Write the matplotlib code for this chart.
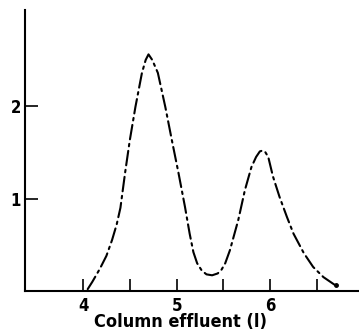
import matplotlib
matplotlib.use("Agg")
import matplotlib.pyplot as plt
from matplotlib import font_manager as fm

# Column effluent (l) vs absorbance
effluent = [4.05, 4.10, 4.18, 4.25, 4.31, 4.36, 4.40, 4.45, 4.50, 4.56,
            4.63, 4.67, 4.70, 4.74, 4.80, 4.88, 4.95, 5.02, 5.09, 5.14, 5.18,
            5.22, 5.27, 5.32, 5.38, 5.44, 5.48, 5.52, 5.57, 5.66, 5.73, 5.80,
            5.85, 5.89, 5.92, 5.95, 5.98, 6.03, 6.10, 6.18, 6.25, 6.36, 6.46,
            6.57, 6.70]
absorbance = [0.02, 0.10, 0.24, 0.38, 0.55, 0.72, 0.90, 1.28, 1.63, 1.99,
              2.36, 2.50, 2.56, 2.50, 2.36, 1.99, 1.63, 1.28, 0.91, 0.62, 0.42,
              0.30, 0.22, 0.18, 0.17, 0.19, 0.23, 0.30, 0.44, 0.77, 1.09, 1.34,
              1.45, 1.51, 1.52, 1.50, 1.45, 1.24, 1.02, 0.80, 0.62, 0.41, 0.26,
              0.15, 0.06]

x_major = [4, 5, 6]
x_minor = [4.5, 5.5, 6.5]
y_major = [1, 2]
xlabel = "Column effluent (l)"

names = sorted({f.name for f in fm.fontManager.ttflist})
print(names)
print([ (f.name, f.stretch, f.weight) for f in fm.fontManager.ttflist if 'DejaVu' in f.name or 'Narrow' in f.name or 'Condensed' in f.name])

plt.rcParams['font.family'] = ['DejaVu Sans']
font = dict(family='DejaVu Sans', stretch='condensed', weight='bold')

fig = plt.figure(figsize=(3.59, 3.32), dpi=100)
ax = fig.add_axes([25/359, 41/332, 1 - 25/359, (291-10)/332])

ax.plot(effluent, absorbance, color='black', lw=1.5,
        dashes=(7, 2.2, 1.2, 2.2), solid_capstyle='round', dash_capstyle='round')
ax.plot([effluent[-1]], [absorbance[-1]], 'o', color='black', ms=2.5)

ax.set_xlim(3.38, 6.95)
ax.set_ylim(0, 3.04)

ax.set_xticks(x_major)
ax.set_xticks(x_minor, minor=True)
ax.set_yticks(y_major)
ax.set_xticklabels([str(v) for v in x_major], fontsize=12, **font)
ax.set_yticklabels([str(v) for v in y_major], fontsize=12, **font)

ax.tick_params(axis='x', which='both', direction='in', length=9, width=1.2, pad=4)
ax.tick_params(axis='y', which='both', direction='in', length=9, width=1.2, pad=3)

for s in ['top', 'right']:
    ax.spines[s].set_visible(False)
for s in ['left', 'bottom']:
    ax.spines[s].set_linewidth(1.5)

ax.set_xlabel(xlabel, fontsize=13, labelpad=0, **font)
ax.xaxis.set_label_coords((180-25)/334, -0.08)

fig.savefig("out.png", dpi=100)
